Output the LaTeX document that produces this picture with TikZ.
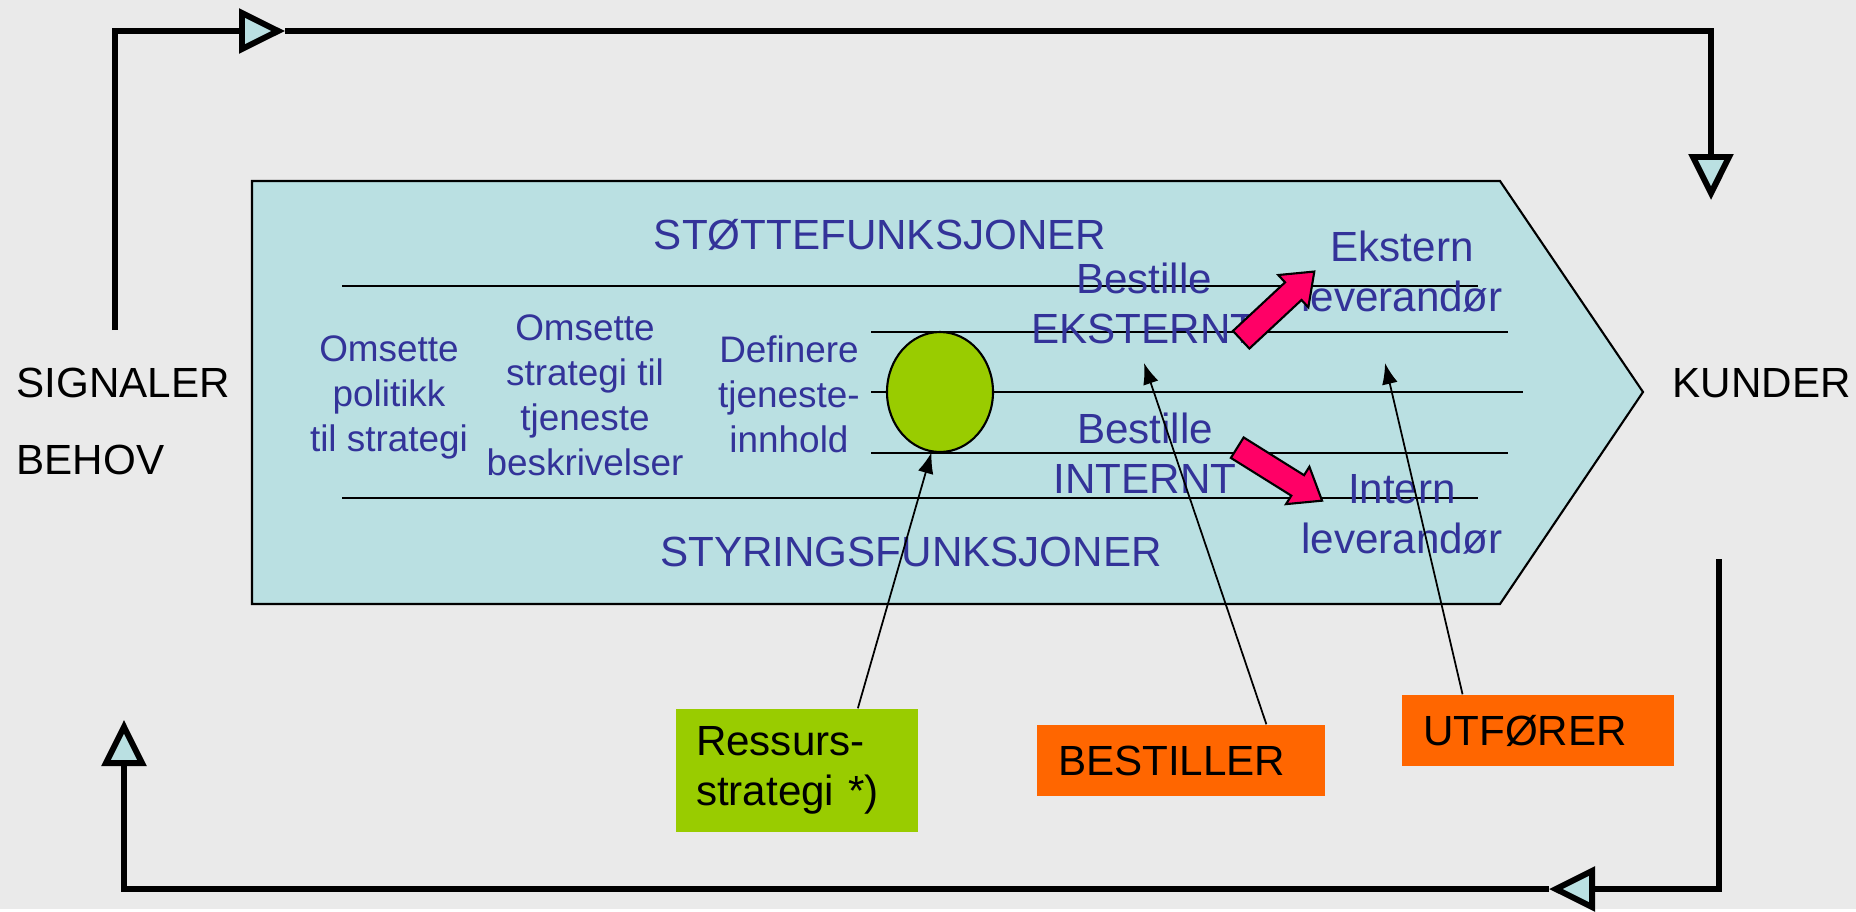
\documentclass[tikz,border=0pt]{standalone}
\usepackage{fontspec}
\setmainfont{Liberation Sans}
\usepackage{tikz}
\usetikzlibrary{shapes,arrows.meta,positioning,calc}

\definecolor{bggray}{RGB}{234,234,234}
\definecolor{chevfill}{RGB}{186,224,226}
\definecolor{txtblue}{RGB}{51,51,153}
\definecolor{ressgreen}{RGB}{153,204,0}
\definecolor{rolleorange}{RGB}{255,102,0}
\definecolor{pilpink}{RGB}{255,0,102}

\begin{document}
\begin{tikzpicture}[every node/.style={font=\fontsize{12}{14.2}\selectfont, inner sep=0pt},
    loopline/.style={line width=1.7pt, -{Triangle[length=0.46cm, width=0.44cm, fill=chevfill]}},
    funk/.style={text=txtblue, align=center},
    smalfunk/.style={text=txtblue, align=center, font=\fontsize{10.5}{12.8}\selectfont},
    rolle/.style={fill=rolleorange, inner xsep=0.21cm, minimum height=0.71cm, align=left},
    peker/.style={line width=0.5pt, -{Latex[length=6pt, width=4.5pt]}},
    pil/.style={single arrow, draw, fill=pilpink, line width=0.6pt, inner ysep=0.11cm, minimum height=1.0cm,
        single arrow head extend=0.1cm, single arrow tip angle=75}]
        % Background
        \fill[bggray] (0,0) rectangle (18.56,9.09);
        % Value chain
        \draw[fill=chevfill, line width=0.6pt] (2.52,7.28) -- (15.00,7.28) -- (16.43,5.17) -- (15.00,3.05) -- (2.52,3.05) -- cycle;
        \draw[line width=0.7pt] (3.42,6.23) -- (14.78,6.23);
        \draw[line width=0.7pt] (8.71,5.77) -- (15.08,5.77);
        \draw[line width=0.7pt] (8.71,5.17) -- (15.23,5.17);
        \draw[line width=0.7pt] (8.71,4.56) -- (15.08,4.56);
        \draw[line width=0.7pt] (3.42,4.11) -- (14.78,4.11);
        \node[ellipse, draw, fill=ressgreen, line width=0.6pt, minimum width=1.06cm, minimum height=1.20cm] (sirkel) at (9.40,5.17) {};
        % Functions
        \node[funk] (stotte) at (8.80,6.74) {STØTTEFUNKSJONER};
        \node[funk] (styring) at (9.11,3.57) {STYRINGSFUNKSJONER};
        \node[smalfunk] (politikk) at (3.89,5.12) {Omsette\\politikk\\til strategi};
        \node[smalfunk] (strategi) at (5.85,5.14) {Omsette\\strategi til\\tjeneste\\beskrivelser};
        \node[smalfunk] (definere) at (7.89,5.15) {Definere\\tjeneste-\\innhold};
        \node[funk] (bestEks) at (11.44,6.06) {Bestille\\EKSTERNT};
        \node[funk] (bestInt) at (11.45,4.56) {Bestille\\INTERNT};
        \node[funk] (eksLev) at (14.02,6.37) {Ekstern\\leverandør};
        \node[funk] (intLev) at (14.02,3.95) {Intern\\leverandør};
        % Pink arrows
        \node[pil, rotate=43] (pilEks) at (12.72,5.98) {};
        \node[pil, rotate=-32] (pilInt) at (12.73,4.39) {};
        % Outside labels
        \node[anchor=west] (signaler) at (0.16,5.26) {SIGNALER};
        \node[anchor=west] (behov) at (0.16,4.49) {BEHOV};
        \node[anchor=west] (kunder) at (16.72,5.26) {KUNDER};
        % Loops
        \coordinate (sigTopp) at (1.15,5.79);
        \coordinate (toppMid) at (2.85,8.78);
        \coordinate (kundTopp) at (17.11,7.09);
        \draw[loopline] (sigTopp) |- (toppMid);
        \draw[loopline] (toppMid) -| (kundTopp);
        \coordinate (kundBunn) at (17.19,3.50);
        \coordinate (bunnMid) at (15.49,0.20);
        \coordinate (sigBunn) at (1.24,1.89);
        \draw[loopline] (kundBunn) |- (bunnMid);
        \draw[loopline] (bunnMid) -| (sigBunn);
        % Roles
        \node[fill=ressgreen, text width=2.02cm, inner xsep=0.2cm, minimum height=1.23cm, align=left] (ressStrat) at (7.97,1.385) {Ressurs-\\strategi *)};
        \node[rolle, text width=2.46cm] (bestiller) at (11.81,1.485) {BESTILLER};
        \node[rolle, text width=2.30cm] (utforer) at (15.38,1.785) {UTFØRER};
        \coordinate (bestPunkt) at (11.44,5.46);
        \coordinate (utfPunkt) at (13.85,5.46);
        \draw[peker] ($(ressStrat.north west)!0.75!(ressStrat.north east)$) -- (sirkel.262);
        \draw[peker] ($(bestiller.north west)!0.795!(bestiller.north east)$) -- (bestPunkt);
        \draw[peker] ($(utforer.north west)!0.224!(utforer.north east)$) -- (utfPunkt);
    \end{tikzpicture}
\end{document}
